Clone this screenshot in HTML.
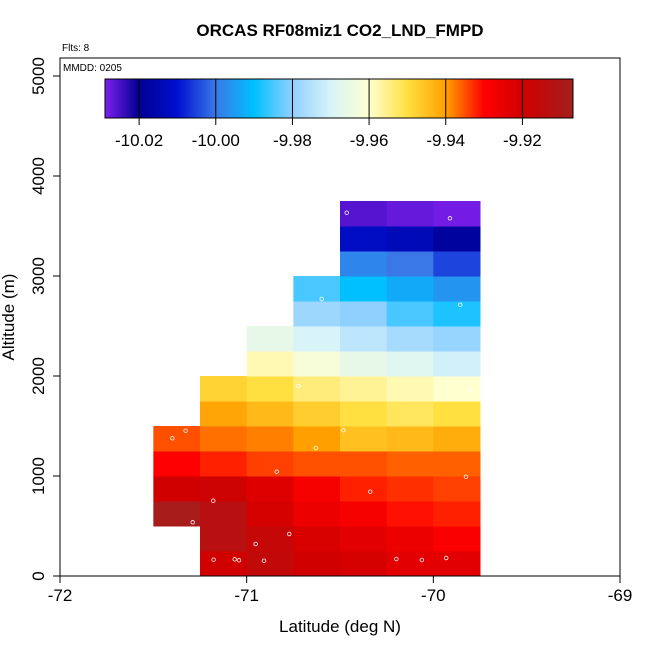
<!DOCTYPE html>
<html><head><meta charset="utf-8"><style>
body{margin:0;background:#fff;}
text{font-family:"Liberation Sans",Arial,sans-serif;}
</style></head><body>
<svg id="chart" width="650" height="650" xmlns="http://www.w3.org/2000/svg">
<rect width="650" height="650" fill="#fff"/>
<text x="340" y="36" text-anchor="middle" font-size="17" font-weight="bold">ORCAS RF08miz1 CO2_LND_FMPD</text>
<text x="62" y="51" font-size="10">Flts: 8</text>
<g id="cells"></g>
<g id="pts"></g>
<rect x="60" y="58" width="560" height="518" fill="none" stroke="#000" stroke-width="1"/>
<text x="63" y="71" font-size="10">MMDD: 0205</text>
<g id="cbar"></g>
<g id="axes"></g>
<text x="340" y="632" text-anchor="middle" font-size="17">Latitude (deg N)</text>
<text transform="translate(14,317) rotate(-90)" text-anchor="middle" font-size="17">Altitude (m)</text>
</svg>
<script>
// Grid data: columns (lon start), rows (alt start), values (row-major from bottom), null = empty
const lonStarts = [-71.5,-71.25,-71.0,-70.75,-70.5,-70.25,-70.0];
const altStarts = [0,250,500,750,1000,1250,1500,1750,2000,2250,2500,2750,3000,3250,3500];
const cellValues = [
 [null,-9.920,-9.916,-9.920,-9.921,-9.924,-9.924],
 [null,-9.913,-9.917,-9.922,-9.924,-9.926,-9.929],
 [-9.908,-9.913,-9.921,-9.926,-9.928,-9.931,-9.932],
 [-9.920,-9.919,-9.923,-9.928,-9.932,-9.933,-9.934],
 [-9.930,-9.932,-9.934,-9.935,-9.935,-9.936,-9.936],
 [-9.935,-9.937,-9.938,-9.940,-9.945,-9.944,-9.942],
 [null,-9.941,-9.944,-9.947,-9.950,-9.952,-9.950],
 [null,-9.948,-9.950,-9.954,-9.956,-9.958,-9.960],
 [null,null,-9.958,-9.962,-9.966,-9.968,-9.971],
 [null,null,-9.966,-9.970,-9.974,-9.977,-9.979],
 [null,null,null,-9.978,-9.980,-9.985,-9.988],
 [null,null,null,-9.985,-9.990,-9.993,-9.996],
 [null,null,null,null,-9.998,-10.000,-10.005],
 [null,null,null,null,-10.012,-10.014,-10.018],
 [null,null,null,null,-10.026,-10.027,-10.028]
];
const pointLon = [-71.327,-71.398,-70.723,-70.482,-70.630,-70.839,-69.825,-70.338,-71.179,-71.289,-70.772,-70.952,-71.177,-71.064,-71.041,-70.907,-70.198,-70.062,-69.931,-69.802,-70.464,-69.911,-70.598,-69.856];
const pointAlt = [1453,1377,1900,1457,1280,1043,993,843,753,537,420,320,163,167,157,153,170,160,180,1857,3633,3577,2770,2713];
const xTicks = [-72,-71,-70,-69];
const yTicks = [0,1000,2000,3000,4000,5000];
const cbTicks = [-10.02,-10.00,-9.98,-9.96,-9.94,-9.92];
const cbTickLabels = ["-10.02","-10.00","-9.98","-9.96","-9.94","-9.92"];

const NS="http://www.w3.org/2000/svg";
const xS = v => 60 + (v + 72) * 560 / 3;
const yS = v => 576 - v * 0.1;
const cbMin=-10.0289, cbMax=-9.9068;
const cbX = v => 105 + (v - cbMin) / (cbMax - cbMin) * 468;
const stops=[[-10.029,"#8020f0"],[-10.02,"#000090"],[-10.01,"#0010d0"],[-10.0,"#3a78e8"],[-9.99,"#00c0ff"],[-9.98,"#90d0ff"],[-9.97,"#d8f4f8"],[-9.96,"#ffffd0"],[-9.95,"#ffe040"],[-9.94,"#ffa000"],[-9.93,"#ff0000"],[-9.92,"#d00000"],[-9.906,"#a02020"]];
function hex(h){return [1,3,5].map(i=>parseInt(h.substr(i,2),16));}
function color(v){
  if(v<=stops[0][0])return stops[0][1];
  for(let i=1;i<stops.length;i++){if(v<=stops[i][0]){const a=hex(stops[i-1][1]),b=hex(stops[i][1]);const t=(v-stops[i-1][0])/(stops[i][0]-stops[i-1][0]);return "rgb("+a.map((c,k)=>Math.round(c+(b[k]-c)*t)).join(",")+")";}}
  return stops[stops.length-1][1];
}
function mk(tag,attrs,parent){const e=document.createElementNS(NS,tag);for(const k in attrs)e.setAttribute(k,attrs[k]);parent.appendChild(e);return e;}
const cells=document.getElementById('cells');
cellValues.forEach((row,r)=>row.forEach((v,c)=>{
  if(v===null)return;
  const x0=xS(lonStarts[c]),x1=xS(lonStarts[c]+0.25),y1=yS(altStarts[r]),y0=yS(altStarts[r]+250);
  const e=mk('rect',{x:x0,y:y0,width:x1-x0+0.5,height:y1-y0+0.5,fill:color(v)},cells);
  
  
}));
const pts=document.getElementById('pts');
pointLon.forEach((lo,i)=>{
  const e=mk('circle',{cx:xS(lo),cy:yS(pointAlt[i]),r:1.8,fill:'none',stroke:'#fff','stroke-width':0.9,opacity:0.85},pts);
  
  
});
const cb=document.getElementById('cbar');
for(let i=0;i<468;i++){
  const v=cbMin+(i+0.5)/468*(cbMax-cbMin);
  mk('rect',{x:105+i,y:79,width:1.2,height:39,fill:color(v)},cb);
}
mk('rect',{x:105,y:79,width:468,height:39,fill:'none',stroke:'#000','stroke-width':1},cb);
cbTicks.forEach((t,i)=>{
  const x=cbX(t);
  const l=mk('line',{x1:x,x2:x,y1:79,y2:125,stroke:'#000','stroke-width':1},cb);
  
  
  const tx=mk('text',{x:x,y:146,'text-anchor':'middle','font-size':17},cb);
  tx.textContent=cbTickLabels[i];
  
  
});
const ax=document.getElementById('axes');
xTicks.forEach(t=>{
  const x=xS(t);
  mk('line',{x1:x,x2:x,y1:576,y2:583,stroke:'#000'},ax);
  const tx=mk('text',{x:x,y:601,'text-anchor':'middle','font-size':17},ax);
  tx.textContent=String(t);
  
  
});
yTicks.forEach(t=>{
  const y=yS(t);
  mk('line',{x1:53,x2:60,y1:y,y2:y,stroke:'#000'},ax);
  const tx=mk('text',{transform:`translate(44,${y}) rotate(-90)`,'text-anchor':'middle','font-size':17},ax);
  tx.textContent=String(t);
  
  
});
</script>
</body></html>
